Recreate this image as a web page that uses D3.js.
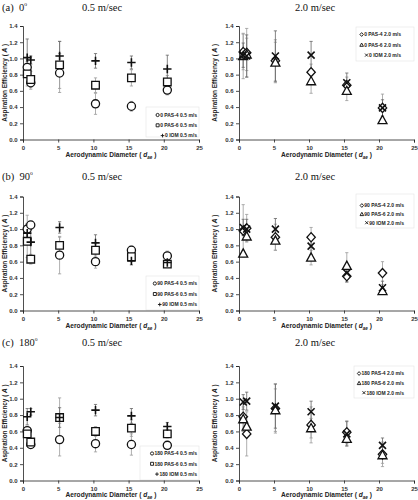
<!DOCTYPE html>
<html><head><meta charset="utf-8">
<script src="https://cdn.jsdelivr.net/npm/d3@7"></script>
<style>body{margin:0;background:#fff}svg{display:block}</style>
</head><body>
<svg id="c" width="418" height="500"></svg>
<script>
// ---------- DATA ----------
const diameters = [0.6, 1.1, 5.2, 10.3, 15.4, 20.5];
const xTicks = [0, 5, 10, 15, 20, 25];
const yTicks = [0, 0.2, 0.4, 0.6, 0.8, 1.0, 1.2, 1.4];
const rowTitles = ["(a)", "(b)", "(c)"];
const angles = ["0", "90", "180"];
const speedTitles = ["0.5 m/sec", "2.0 m/sec"];
const seriesLow = ["PAS-4", "PAS-6", "IOM"];
const speedLegend = ["0.5 m/s", "2.0 m/s"];

// 0 deg, 0.5 m/s
const a05_pas4 = [0.89, 0.70, 0.82, 0.44, 0.41, 0.61];
const a05_pas4_err = [0.10, 0.08, 0.24, 0.13, 0.06, 0.06];
const a05_pas6 = [0.81, 0.74, 0.92, 0.67, 0.76, 0.71];
const a05_pas6_err = [0.15, 0.10, 0.29, 0.09, 0.10, 0.08];
const a05_iom = [1.01, 0.98, 1.03, 0.97, 0.95, 0.87];
const a05_iom_err = [0.23, 0.05, 0.18, 0.09, 0.08, 0.17];
// 0 deg, 2.0 m/s
const a20_pas4 = [1.08, 1.07, 0.97, 0.83, 0.67, 0.39];
const a20_pas4_err = [0.22, 0.30, 0.26, 0.10, 0.10, 0.17];
const a20_pas6 = [1.03, 1.05, 0.95, 0.72, 0.60, 0.24];
const a20_pas6_err = [0.28, 0.20, 0.25, 0.15, 0.12, 0.04];
const a20_iom = [1.04, 1.03, 1.03, 1.04, 0.70, 0.39];
const a20_iom_err = [0.15, 0.26, 0.31, 0.17, 0.12, 0.10];
// 90 deg, 0.5 m/s
const b05_pas4 = [1.00, 1.05, 0.68, 0.60, 0.74, 0.67];
const b05_pas4_err = [0.17, 0.04, 0.23, 0.08, 0.05, 0.06];
const b05_pas6 = [0.85, 0.63, 0.80, 0.74, 0.66, 0.57];
const b05_pas6_err = [0.20, 0.06, 0.10, 0.08, 0.06, 0.04];
const b05_iom = [0.95, 0.84, 1.02, 0.83, 0.61, 0.59];
const b05_iom_err = [0.12, 0.16, 0.07, 0.10, 0.05, 0.03];
// 90 deg, 2.0 m/s
const b20_pas4 = [0.98, 1.01, 0.90, 0.90, 0.42, 0.46];
const b20_pas4_err = [0.32, 0.17, 0.16, 0.12, 0.07, 0.14];
const b20_pas6 = [0.70, 0.91, 0.86, 0.65, 0.55, 0.24];
const b20_pas6_err = [0.04, 0.06, 0.12, 0.09, 0.16, 0.04];
const b20_iom = [1.02, 1.00, 1.00, 0.79, 0.46, 0.28];
const b20_iom_err = [0.10, 0.12, 0.13, 0.10, 0.11, 0.08];
// 180 deg, 0.5 m/s
const c05_pas4 = [0.61, 0.44, 0.50, 0.45, 0.44, 0.43];
const c05_pas4_err = [0.05, 0.02, 0.20, 0.10, 0.13, 0.03];
const c05_pas6 = [0.57, 0.47, 0.77, 0.60, 0.64, 0.57];
const c05_pas6_err = [0.05, 0.03, 0.24, 0.06, 0.10, 0.05];
const c05_iom = [0.78, 0.84, 0.77, 0.86, 0.79, 0.66];
const c05_iom_err = [0.10, 0.04, 0.12, 0.07, 0.09, 0.05];
// 180 deg, 2.0 m/s
const c20_pas4 = [0.78, 0.57, 0.88, 0.68, 0.59, 0.32];
const c20_pas4_err = [0.18, 0.27, 0.30, 0.22, 0.14, 0.15];
const c20_pas6 = [0.75, 0.66, 0.86, 0.64, 0.51, 0.31];
const c20_pas6_err = [0.15, 0.12, 0.26, 0.12, 0.08, 0.10];
const c20_iom = [0.96, 0.97, 0.91, 0.84, 0.57, 0.43];
const c20_iom_err = [0.09, 0.11, 0.27, 0.13, 0.15, 0.09];

const panelData = [
  [[a05_pas4, a05_pas4_err], [a05_pas6, a05_pas6_err], [a05_iom, a05_iom_err]],
  [[a20_pas4, a20_pas4_err], [a20_pas6, a20_pas6_err], [a20_iom, a20_iom_err]],
  [[b05_pas4, b05_pas4_err], [b05_pas6, b05_pas6_err], [b05_iom, b05_iom_err]],
  [[b20_pas4, b20_pas4_err], [b20_pas6, b20_pas6_err], [b20_iom, b20_iom_err]],
  [[c05_pas4, c05_pas4_err], [c05_pas6, c05_pas6_err], [c05_iom, c05_iom_err]],
  [[c20_pas4, c20_pas4_err], [c20_pas6, c20_pas6_err], [c20_iom, c20_iom_err]]
];

// ---------- LAYOUT ----------
const colX = [[23, 199], [239, 414]];
const yLabelOffset = [16.5, 22];
const rowY = [[26, 139.5], [196.5, 310.5], [366, 480.5]];
const titleY = [11, 180, 346];
const xLabelY = [157, 328, 497];
const legendPos = [ // [right x, first item y, spacing] per panel
  [197, 115, 10.3], [401, 34.5, 10.3],
  [197, 283.5, 10.5], [404, 205.5, 8.6],
  [197, 453.5, 10.3], [404, 373.5, 9.6]
];
const legendBox = [
  [146, 107, 53, 30], [356, 27, 58, 34],
  [146, 276, 53, 34], [356, 194, 58, 34],
  [140, 446, 59, 34], [354, 366, 60, 32]
];

const svg = d3.select("#c");
const sansFont = "'Liberation Sans', Arial, sans-serif";
const serifFont = "'Liberation Serif', 'Times New Roman', serif";

// marker paths
const shapes = {
  circle: d3.symbol(d3.symbolCircle, 52)(),
  square: "M-3.8,-3.8H3.8V3.8H-3.8Z",
  plus: "M-4.2,0H4.2M0,-4.2V4.2",
  diamond: "M0,-4.6L4.2,0L0,4.6L-4.2,0Z",
  triangle: "M0,-4.6L4.5,3.6H-4.5Z",
  xmark: "M-3.5,-3.5L3.5,3.5M-3.5,3.5L3.5,-3.5"
};
const leftShapes = ["circle", "square", "plus"];
const rightShapes = ["diamond", "triangle", "xmark"];
const legendShapes = {
  circle: d3.symbol(d3.symbolCircle, 8)(),
  square: "M-1.5,-1.5H1.5V1.5H-1.5Z",
  plus: "M-1.8,0H1.8M0,-1.8V1.8",
  diamond: "M0,-1.9L1.7,0L0,1.9L-1.7,0Z",
  triangle: "M0,-1.8L1.8,1.5H-1.8Z",
  xmark: "M-1.5,-1.5L1.5,1.5M-1.5,1.5L1.5,-1.5"
};

// Row titles
rowTitles.forEach((t, r) => {
  const g = svg.append("text").attr("x", 2).attr("y", titleY[r])
    .attr("font-family", serifFont).attr("font-size", 10.5).attr("fill", "#111");
  g.append("tspan").text(t + "\u00a0\u00a0" + angles[r]);
  g.append("tspan").text("o").attr("font-size", 5.5).attr("dy", -5);
  speedTitles.forEach((s, c) => {
    svg.append("text").attr("x", c === 0 ? 102 : 315).attr("y", titleY[r])
      .attr("text-anchor", "middle")
      .attr("font-family", serifFont).attr("font-size", 10.5).attr("fill", "#111").text(s);
  });
});

for (let r = 0; r < 3; r++) {
  for (let c = 0; c < 2; c++) {
    const p = r * 2 + c;
    const [x0, x1] = colX[c];
    const [yTop, yBot] = rowY[r];
    const x = d3.scaleLinear().domain([0, 25]).range([x0, x1]);
    const y = d3.scaleLinear().domain([0, 1.4]).range([yBot, yTop]);
    const g = svg.append("g");

    // legend box
    const lb = legendBox[p];
    g.append("rect").attr("x", lb[0]).attr("y", lb[1]).attr("width", lb[2]).attr("height", lb[3])
      .attr("fill", "none").attr("stroke", "#e4e4e4").attr("stroke-width", 0.6);

    // axes
    const yAxis = d3.axisLeft(y).tickValues(yTicks).tickFormat(d3.format(".1f")).tickSize(3).tickPadding(2.5);
    const xAxis = d3.axisBottom(x).tickValues(xTicks).tickFormat(d3.format("d")).tickSize(3).tickPadding(3);
    const ya = g.append("g").attr("transform", `translate(${x0},0)`).call(yAxis);
    const xa = g.append("g").attr("transform", `translate(0,${yBot})`).call(xAxis);
    [ya, xa].forEach(a => {
      a.select(".domain").attr("stroke", "#222").attr("stroke-width", 0.8);
      a.selectAll(".tick line").attr("stroke", "#222").attr("stroke-width", 0.8);
      a.selectAll("text").attr("font-family", sansFont).attr("font-size", 6)
        .attr("font-weight", "bold").attr("fill", "#333");
    });

    // axis labels
    const yl = g.append("text")
      .attr("transform", `translate(${x0 - yLabelOffset[c]},${(yTop + yBot) / 2}) rotate(-90)`)
      .attr("text-anchor", "middle").attr("font-family", sansFont).attr("font-size", 6.4)
      .attr("font-weight", "bold").attr("fill", "#222");
    yl.append("tspan").text("Aspiration Efficiency ( ");
    yl.append("tspan").text("A").attr("font-style", "italic");
    yl.append("tspan").text(" )");
    const xl = g.append("text").attr("x", (x0 + x1) / 2).attr("y", xLabelY[r])
      .attr("text-anchor", "middle").attr("font-family", sansFont).attr("font-size", 6.6)
      .attr("font-weight", "bold").attr("fill", "#222");
    xl.append("tspan").text("Aerodynamic Diameter ( ");
    xl.append("tspan").text("d").attr("font-style", "italic");
    xl.append("tspan").text("ae").attr("font-style", "italic").attr("font-size", 4.5).attr("dy", 1.5);
    xl.append("tspan").text(" )").attr("dy", -1.5);

    const shp = c === 0 ? leftShapes : rightShapes;

    // error bars
    panelData[p].forEach(([vals, errs], s) => {
      const col = s === 2 ? "#666" : "#9a9a9a";
      vals.forEach((v, i) => {
        const cx = x(diameters[i]);
        const lo = y(v - errs[i]), hi = y(v + errs[i]);
        g.append("line").attr("x1", cx).attr("x2", cx).attr("y1", lo).attr("y2", hi)
          .attr("stroke", col).attr("stroke-width", 0.8);
        [lo, hi].forEach(yy => g.append("line").attr("x1", cx - 1.6).attr("x2", cx + 1.6)
          .attr("y1", yy).attr("y2", yy).attr("stroke", col).attr("stroke-width", 0.8));
      });
    });

    // markers
    panelData[p].forEach(([vals], s) => {
      const isLine = shp[s] === "plus" || shp[s] === "xmark";
      g.selectAll(null).data(vals).enter().append("path")
        .attr("d", shapes[shp[s]])
        .attr("transform", (v, i) => `translate(${x(diameters[i])},${y(v)})`)
        .attr("fill", isLine ? "none" : "#fff")
        .attr("stroke", "#111").attr("stroke-width", isLine ? 1.6 : 1.3);
    });

    // legend
    const [lx, ly, ld] = legendPos[p];
    seriesLow.forEach((name, s) => {
      const t = g.append("text").attr("x", lx).attr("y", ly + s * ld + 1.8)
        .attr("text-anchor", "end").attr("font-family", sansFont).attr("font-size", 5)
        .attr("font-weight", "bold").attr("fill", "#222")
        .text(angles[r] + " " + name + " " + speedLegend[c]);
      const w = t.node().getComputedTextLength();
      const isLine = shp[s] === "plus" || shp[s] === "xmark";
      g.append("path").attr("d", legendShapes[shp[s]])
        .attr("transform", `translate(${lx - w - 2.5},${ly + s * ld})`)
        .attr("fill", isLine ? "none" : "#fff").attr("stroke", "#111").attr("stroke-width", 0.9);
    });
  }
}
</script>
</body></html>
